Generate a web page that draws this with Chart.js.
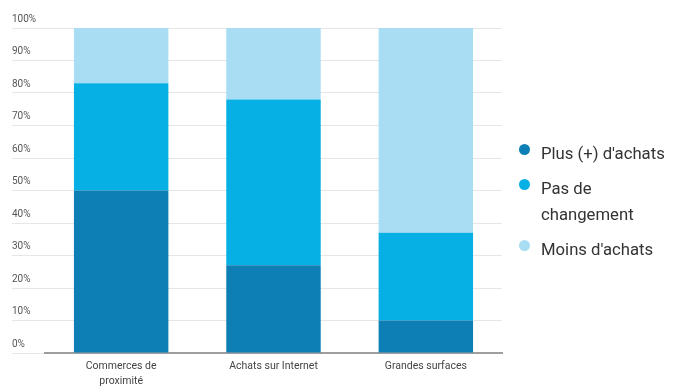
<!DOCTYPE html>
<html>
<head>
<meta charset="utf-8">
<script src="https://cdn.jsdelivr.net/npm/chart.js@4/dist/chart.umd.min.js"></script>
<style>
  html, body { margin: 0; padding: 0; background: #fff; }
  #wrap { position: relative; width: 696px; height: 388px; }
  #legend { position: absolute; left: 519px; top: 141px; font-family: Roboto, sans-serif; font-size: 16.7px; color: #333; }
  #legend .item { display: flex; align-items: flex-start; margin-bottom: 9px; width: 178px; line-height: 26px; }
  #legend .dot { width: 11px; height: 11px; border-radius: 50%; margin: 3px 11px 0 0; flex: none; }
</style>
</head>
<body>
<div id="wrap">
  <canvas id="chart"></canvas>
  <div id="legend"></div>
</div>
<script>
const categories = [["Commerces de", "proximité"], "Achats sur Internet", "Grandes surfaces"];
const seriesNames = ["Plus (+) d'achats", "Pas de changement", "Moins d'achats"];
const plusAchats = [50, 27, 10];
const pasDeChangement = [33, 51, 27];
const moinsAchats = [17, 22, 63];
const colors = ["#0d7fb4", "#06b0e4", "#a9ddf3"];

const seriesValues = [plusAchats, pasDeChangement, moinsAchats];

const chart = new Chart(document.getElementById("chart"), {
    type: "bar",
    data: {
        labels: categories,
        datasets: seriesNames.map((name, i) => ({
            label: name,
            data: seriesValues[i],
            backgroundColor: colors[i],
            borderWidth: 0,
            barPercentage: 0.62,
            categoryPercentage: 1
        }))
    },
    options: {
        responsive: true,
        maintainAspectRatio: false,
        animation: false,
        layout: { padding: { left: 12, right: 194, top: 28, bottom: 0 } },
        plugins: {
            legend: { display: false },
            tooltip: { enabled: false }
        },
        scales: {
            x: {
                stacked: true,
                grid: { display: false, drawTicks: false },
                border: { color: "#9e9e9e", width: 2 },
                afterFit(scale) { scale.height = 35; },
                ticks: {
                    color: "#444",
                    font: { family: "Roboto", size: 10.5, lineHeight: 1.45 },
                    padding: 6,
                    maxRotation: 0
                }
            },
            y: {
                stacked: true,
                min: 0,
                max: 100,
                grid: { color: "#e6e6e6", tickLength: 33, tickColor: "#e6e6e6" },
                border: { display: false },
                afterFit(scale) { scale.width = 33; },
                ticks: {
                    stepSize: 10,
                    crossAlign: "far",
                    labelOffset: -9,
                    color: "#555",
                    font: { family: "Roboto", size: 10 },
                    callback: v => v + "%"
                }
            }
        }
    }
});

const legend = document.getElementById("legend");
seriesNames.forEach((name, i) => {
    const item = document.createElement("div");
    item.className = "item";
    item.innerHTML = '<span class="dot" style="background:' + colors[i] + '"></span><span>' + name.replace("Pas de changement", "Pas de<br>changement") + '</span>';
    legend.appendChild(item);
});
</script>
</body>
</html>
